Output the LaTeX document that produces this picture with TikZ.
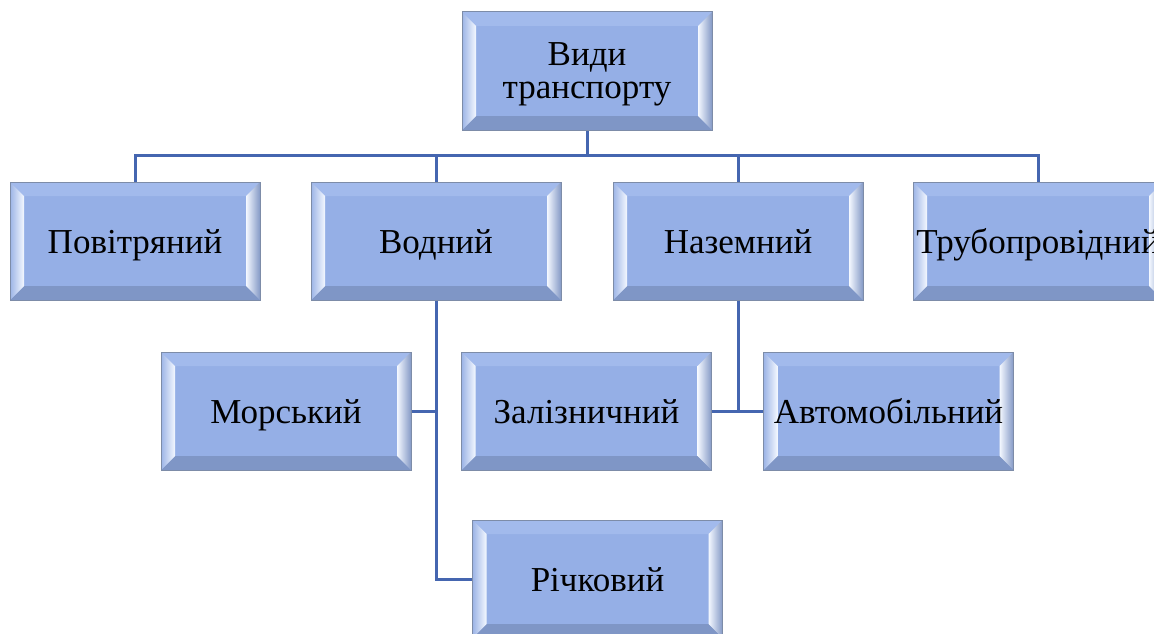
\documentclass[tikz,border=0pt]{standalone}
\usepackage{fontspec}
\setmainfont{Liberation Serif}
\newfontfamily\boxfont{Liberation Serif}
\definecolor{boxfill}{HTML}{95AFE6}
\definecolor{boxborder}{HTML}{7D8CA8}
\definecolor{bevtop}{HTML}{A2BAEC}
\definecolor{bevbot}{HTML}{7F96C6}
\definecolor{bevlo}{HTML}{9CB4E6}
\definecolor{bevhi}{HTML}{F4F8FF}
\definecolor{bevro}{HTML}{8499C6}
\definecolor{linecol}{HTML}{4566B0}
\tikzset{
  boxtext/.style={align=center, font=\boxfont\fontsize{35}{33}\selectfont, inner sep=0pt},
  bevelbox/.style={draw=boxborder, line width=1pt, fill=boxfill,
    minimum width=250pt, minimum height=118pt, boxtext,
    text height=30pt, text depth=6pt,
    path picture={
      \fill[bevtop] (path picture bounding box.north west) -- (path picture bounding box.north east)
        -- ([shift={(-14pt,-14pt)}]path picture bounding box.north east)
        -- ([shift={(14pt,-14pt)}]path picture bounding box.north west) -- cycle;
      \fill[bevbot] (path picture bounding box.south west) -- (path picture bounding box.south east)
        -- ([shift={(-14pt,14pt)}]path picture bounding box.south east)
        -- ([shift={(14pt,14pt)}]path picture bounding box.south west) -- cycle;
      \shade[left color=bevlo, right color=bevhi] (path picture bounding box.north west)
        -- ([shift={(14pt,-14pt)}]path picture bounding box.north west)
        -- ([shift={(14pt,14pt)}]path picture bounding box.south west)
        -- (path picture bounding box.south west) -- cycle;
      \shade[left color=bevhi, right color=bevro] (path picture bounding box.north east)
        -- ([shift={(-14pt,-14pt)}]path picture bounding box.north east)
        -- ([shift={(-14pt,14pt)}]path picture bounding box.south east)
        -- (path picture bounding box.south east) -- cycle;
    }},
  conn/.style={draw=linecol, line width=3pt}
}
\begin{document}
\begin{tikzpicture}[x=1pt,y=-1pt]
\useasboundingbox (0,0) rectangle (1154,634);
\clip (0,0) rectangle (1154,634);
\fill[white] (0,0) rectangle (1154,634);
\coordinate (bus) at (587,155);
% connectors
\draw[conn] (587,130) -- (bus);
\draw[conn] (135,182) -- (135,155) -- (1038,155) -- (1038,182);
\draw[conn] (436,155) -- (436,182);
\draw[conn] (738,155) -- (738,182);
% nodes
\node[bevelbox] (top) at (587,71) {};
\node[boxtext] (toptxt) at (587,74) {Види\\транспорту};
\node[bevelbox] (pov) at (135,241) {Повітряний};
\node[bevelbox] (vod) at (436,241) {Водний};
\node[bevelbox] (naz) at (738,241) {Наземний};
\node[bevelbox] (trub) at (1038,241) {Трубопровідний};
\node[bevelbox] (mor) at (286,411) {Морський};
\node[bevelbox] (zal) at (586.5,411) {Залізничний};
\node[bevelbox] (avt) at (888.5,411) {Автомобільний};
\node[bevelbox] (rich) at (597.5,579) {Річковий};
% lower connectors
\draw[conn] (vod.south) -- (vod.south |- rich.west) -- (rich.west);
\draw[conn] (mor.east) -- (mor.east -| vod.south);
\draw[conn] (naz.south) -- (naz.south |- zal.east);
\draw[conn] (zal.east) -- (avt.west);
\end{tikzpicture}
\end{document}
